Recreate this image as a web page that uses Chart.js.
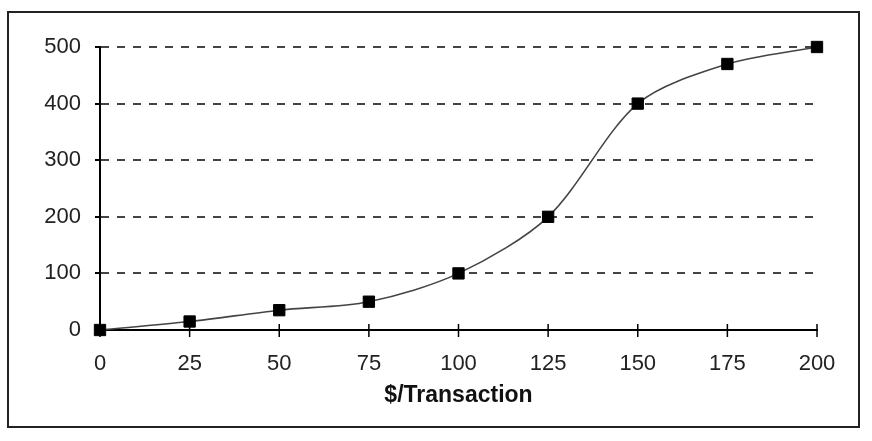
<!DOCTYPE html>
<html>
<head>
<meta charset="utf-8">
<script src="https://cdn.jsdelivr.net/npm/chart.js@4"></script>
<style>
    html, body { margin: 0; padding: 0; background: #fff; }
    #wrap { width: 872px; height: 441px; }
</style>
</head>
<body>
<div id="wrap"><canvas id="curve" width="872" height="441"></canvas></div>
<script>
// values
const dollarsPerTransaction = [0, 25, 50, 75, 100, 125, 150, 175, 200];
const cumulative = [0, 15, 35, 50, 100, 200, 400, 470, 500];
const xTicks = [0, 25, 50, 75, 100, 125, 150, 175, 200];
const yTicks = [0, 100, 200, 300, 400, 500];

// outer frame round the whole chart
const frame = {
    id: 'frame',
    beforeDraw(chart) {
        const ctx = chart.ctx;
        ctx.save();
        ctx.fillStyle = '#fff';
        ctx.fillRect(0, 0, chart.width, chart.height);
        ctx.strokeStyle = '#222';
        ctx.lineWidth = 2;
        ctx.strokeRect(8, 12, 851, 415);
        ctx.restore();
    }
};

// x tick marks cross the axis line
const crossTicks = {
    id: 'crossTicks',
    afterDatasetsDraw(chart) {
        const ctx = chart.ctx;
        const x = chart.scales.x;
        const y0 = chart.chartArea.bottom;
        ctx.save();
        ctx.strokeStyle = '#000';
        ctx.lineWidth = 1.5;
        xTicks.forEach(v => {
            const px = x.getPixelForValue(v);
            ctx.beginPath();
            ctx.moveTo(px, y0 - 6);
            ctx.lineTo(px, y0 + 7);
            ctx.stroke();
        });
        ctx.restore();
    }
};

const ctx = document.getElementById('curve').getContext('2d');
new Chart(ctx, {
    type: 'line',
    data: {
        datasets: [{
            data: dollarsPerTransaction.map((v, i) => ({ x: v, y: cumulative[i] })),
            borderColor: '#444',
            borderWidth: 1.6,
            tension: 0.3,
            pointStyle: 'rect',
            pointRadius: 8,
            pointBackgroundColor: '#000',
            pointBorderColor: '#000',
            pointBorderWidth: 1,
            clip: false
        }]
    },
    options: {
        responsive: false,
        animation: false,
        layout: { padding: { left: 0, right: 55, top: 47, bottom: 32 } },
        plugins: {
            legend: { display: false },
            tooltip: { enabled: false }
        },
        scales: {
            x: {
                type: 'linear',
                min: 0,
                max: 200,
                afterBuildTicks: s => { s.ticks = xTicks.map(v => ({ value: v })); },
                afterFit: s => { s.height = 79; },
                grid: { drawOnChartArea: false, drawTicks: false },
                border: { color: '#000', width: 2 },
                ticks: {
                    padding: 21,
                    color: '#222',
                    font: { family: 'Liberation Sans, Arial', size: 22 }
                },
                title: {
                    display: true,
                    text: '$/Transaction',
                    color: '#111',
                    padding: { top: 0, bottom: 0 },
                    font: { family: 'Liberation Sans, Arial', size: 23, weight: 'bold' }
                }
            },
            y: {
                min: 0,
                max: 500,
                afterBuildTicks: s => { s.ticks = yTicks.map(v => ({ value: v })); },
                afterFit: s => { s.width = 100; },
                grid: {
                    color: c => c.tick && c.tick.value === 0 ? 'rgba(0,0,0,0)' : '#444',
                    lineWidth: 2,
                    tickLength: 5,
                    tickColor: '#000',
                    tickWidth: 2,
                    tickBorderDash: []
                },
                border: { color: '#000', width: 2, dash: [8, 8] },
                ticks: {
                    padding: 14,
                    color: '#222',
                    font: { family: 'Liberation Sans, Arial', size: 22 }
                }
            }
        }
    },
    plugins: [frame, crossTicks]
});
</script>
</body>
</html>
